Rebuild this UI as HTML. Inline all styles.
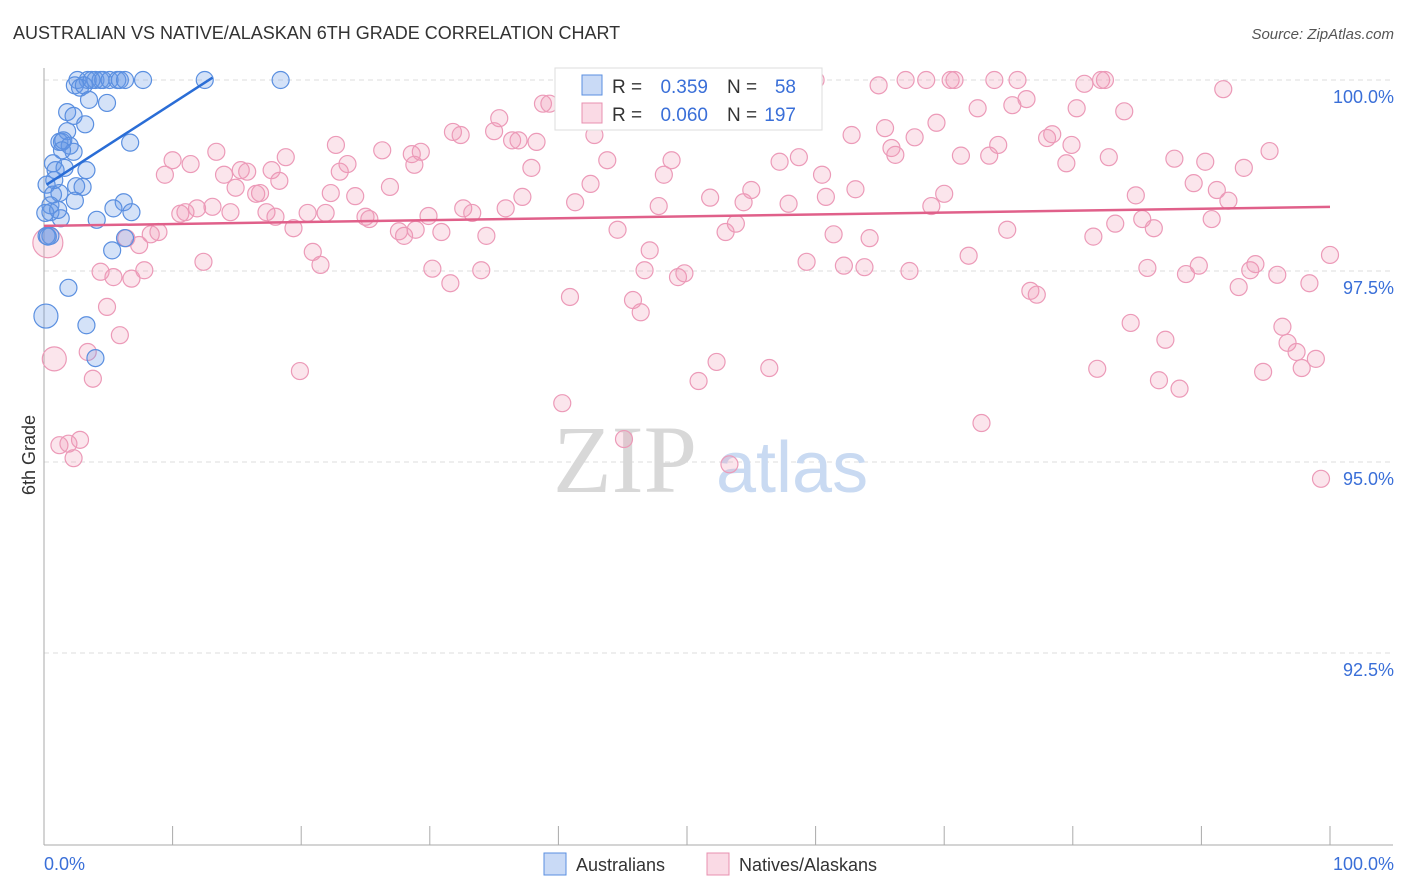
<!DOCTYPE html>
<html><head><meta charset="utf-8"><style>
body{margin:0;background:#fff;font-family:"Liberation Sans",sans-serif}
svg{display:block}
</style></head><body>
<svg id="chart" width="1406" height="892">
<text x="13" y="39" font-size="18" fill="#333">AUSTRALIAN VS NATIVE/ALASKAN 6TH GRADE CORRELATION CHART</text>
<text x="1394" y="39" font-size="15" fill="#555" font-style="italic" text-anchor="end">Source: ZipAtlas.com</text>
<g id="grid"></g>
<g id="wm">
<text x="553" y="492" font-size="96" fill="#d8d8d8" font-family="Liberation Serif,serif">ZIP</text>
<text x="716" y="492" font-size="72" fill="#c9daf2">atlas</text>
</g>
<g id="pts"></g>
<g id="lines"></g>
<text transform="translate(35,455) rotate(-90)" font-size="18" fill="#333" text-anchor="middle">6th Grade</text>
<text x="44" y="870" font-size="18" fill="#3a6fd8">0.0%</text>
<text x="1394" y="870" font-size="18" fill="#3a6fd8" text-anchor="end">100.0%</text>
<g>
<rect x="555" y="68" width="267" height="62" fill="#fff" stroke="#ddd"/>
<rect x="582" y="75" width="20" height="20" fill="rgba(100,150,230,0.35)" stroke="#5a8fe0"/>
<rect x="582" y="103" width="20" height="20" fill="rgba(240,150,180,0.35)" stroke="#e890b0"/>
<text y="93" font-size="19" fill="#333"><tspan x="612">R =</tspan><tspan x="708" text-anchor="end" fill="#3a6fd8">0.359</tspan><tspan x="727">N =</tspan><tspan x="796" text-anchor="end" fill="#3a6fd8">58</tspan></text>
<text y="121" font-size="19" fill="#333"><tspan x="612">R =</tspan><tspan x="708" text-anchor="end" fill="#3a6fd8">0.060</tspan><tspan x="727">N =</tspan><tspan x="796" text-anchor="end" fill="#3a6fd8">197</tspan></text>
</g>
<g>
<rect x="544" y="853" width="22" height="22" fill="rgba(100,150,230,0.35)" stroke="#5a8fe0"/>
<text x="576" y="871" font-size="18" fill="#333">Australians</text>
<rect x="707" y="853" width="22" height="22" fill="rgba(240,150,180,0.35)" stroke="#e890b0"/>
<text x="739" y="871" font-size="18" fill="#333">Natives/Alaskans</text>
</g>
</svg>
<script>
const yTicks=[100,97.5,95,92.5];
const yTickLabels=["100.0%","97.5%","95.0%","92.5%"];
const xTicks=[0,10,20,30,40,50,60,70,80,90,100];
const blueX=[2.6,3.4,4.0,4.4,4.6,5.1,5.7,5.9,6.3,7.7,12.5,18.4,2.4,2.8,3.1,3.5,4.9,1.8,2.3,3.2,1.8,1.2,1.4,2.0,2.3,0.7,0.9,3.3,6.7,0.2,0.7,2.5,3.0,1.2,2.4,6.2,0.5,0.5,1.3,4.1,5.4,6.8,0.5,0.2,6.3,5.3,1.9,3.3,4.0,0.15,1.6,1.5,1.4,0.1,0.8,1.1,0.3,3.7];
const blueY=[100,100,100,100,100,100,100,100,100,100,100,100,99.93,99.9,99.93,99.74,99.7,99.58,99.53,99.42,99.33,99.19,99.19,99.14,99.06,98.91,98.82,98.82,99.18,98.63,98.5,98.61,98.6,98.52,98.42,98.4,98.36,98.27,98.19,98.17,98.32,98.27,97.96,97.96,97.93,97.77,97.28,96.79,96.36,96.91,98.85,99.21,99.08,98.26,98.69,98.3,97.95,100];
const blueBig=[49];
const pinkX=[0.3,0.8,1.2,2.3,2.8,1.9,3.8,3.4,5.9,4.9,4.4,5.4,6.8,7.8,7.4,6.4,8.3,8.9,9.4,10.0,10.6,11.0,11.4,11.9,12.4,13.1,13.4,14.0,14.5,14.9,15.3,15.8,16.5,16.8,17.3,17.7,18.0,18.3,18.8,19.4,19.9,20.5,20.9,21.5,21.9,22.3,22.7,23.0,23.6,24.2,25.0,25.3,26.3,26.9,27.6,28.0,28.6,28.8,28.9,29.3,29.9,30.2,30.9,31.6,31.8,32.4,32.6,33.3,34.0,34.4,35.0,35.4,35.9,36.4,36.9,37.2,37.9,38.3,38.8,39.3,40.3,40.9,41.3,42.5,42.8,43.1,43.8,44.6,45.1,45.8,46.4,46.7,47.1,47.8,48.2,48.8,49.3,49.8,50.9,51.6,51.8,52.3,53.0,53.3,53.8,54.4,55.0,55.7,56.4,57.2,57.9,58.7,59.3,60.0,60.5,60.8,61.4,62.2,62.8,63.1,63.8,64.2,64.9,65.4,65.9,66.2,67.0,67.3,67.7,68.6,69.0,69.4,70.0,70.5,70.8,71.3,71.9,72.6,72.9,73.5,73.9,74.2,74.9,75.3,75.7,76.4,76.7,77.2,78.0,78.4,79.5,79.9,80.3,80.9,81.6,81.9,82.2,82.5,82.8,83.3,84.0,84.5,84.9,85.4,85.8,86.3,86.7,87.2,87.9,88.3,88.8,89.4,89.8,90.3,90.8,91.2,91.7,92.1,92.9,93.3,93.8,94.2,94.8,95.3,95.9,96.3,96.7,97.4,97.8,98.4,98.9,99.3,100.0];
const pinkY=[97.87,96.35,95.22,95.05,95.29,95.24,96.09,96.44,96.66,97.03,97.49,97.42,97.40,97.51,97.84,97.93,97.98,98.01,98.76,98.95,98.25,98.27,98.90,98.32,97.62,98.34,99.06,98.76,98.27,98.59,98.82,98.80,98.51,98.52,98.27,98.82,98.21,98.68,98.99,98.06,96.19,98.26,97.75,97.58,98.26,98.52,99.15,98.80,98.90,98.48,98.21,98.18,99.08,98.60,98.02,97.96,99.03,98.89,98.04,99.06,98.22,97.53,98.01,97.34,99.32,99.28,98.32,98.26,97.51,97.96,99.33,99.50,98.32,99.21,99.21,98.47,98.85,99.19,99.69,99.69,95.77,97.16,98.40,98.64,99.28,99.73,98.95,98.04,95.30,97.12,96.96,97.51,97.77,98.35,98.76,98.95,97.42,97.47,96.06,99.99,98.46,96.31,98.01,94.97,98.12,98.40,98.56,100,96.23,98.93,98.38,98.99,97.62,100,98.76,98.47,97.98,97.57,99.28,98.57,97.55,97.93,99.93,99.37,99.11,99.02,100,97.50,99.25,100,98.35,99.44,98.51,100,100,99.01,97.70,99.63,95.51,99.01,100,99.15,98.04,99.67,100,99.75,97.24,97.19,99.24,99.29,98.91,99.15,99.63,99.95,97.95,96.22,100,100,98.99,98.12,99.59,96.82,98.49,98.18,97.54,98.06,96.07,96.60,98.97,95.96,97.46,98.65,97.57,98.93,98.18,98.56,99.88,98.42,97.29,98.85,97.51,97.59,96.18,99.07,97.45,96.77,96.56,96.44,96.23,97.34,96.35,94.78,97.71];
const pinkBig=[0,1];
const blueTrendX=[0.2,13.1];
const blueTrendY=[98.63,100.03];
const pinkTrendX=[0,100];
const pinkTrendY=[98.09,98.34];

const NS="http://www.w3.org/2000/svg";
const sx=v=>44+v*12.86;
const sy=v=>80+(100-v)/2.5*191;
function mk(tag,attrs,parent){const e=document.createElementNS(NS,tag);for(const k in attrs)e.setAttribute(k,attrs[k]);parent.appendChild(e);return e;}
const grid=document.getElementById('grid');
yTicks.forEach((t,i)=>{
  const l=mk('line',{x1:44,x2:1393,y1:sy(t),y2:sy(t),stroke:'#ddd','stroke-dasharray':'5,4'},grid);
  
  
  const tx=mk('text',{x:1394,y:sy(t)+23,'font-size':18,fill:'#3a6fd8','text-anchor':'end'},grid);
  tx.textContent=yTickLabels[i];
  
  
});
const ax=mk('line',{x1:44,x2:44,y1:68,y2:845,stroke:'#aaa'},grid);


const bx=mk('line',{x1:44,x2:1393,y1:845,y2:845,stroke:'#aaa'},grid);


xTicks.forEach(t=>{
  const l=mk('line',{x1:sx(t),x2:sx(t),y1:826,y2:845,stroke:'#aaa'},grid);
  
  
});
const pts=document.getElementById('pts');
pinkX.forEach((x,i)=>{
  const r=pinkBig.indexOf(i)===0?15:(pinkBig.indexOf(i)>0?12:8.5);
  const c=mk('circle',{cx:sx(x),cy:sy(pinkY[i]),r:r,fill:'rgba(240,150,180,0.25)',stroke:'#ec9ab8','stroke-width':1.2},pts);
  
  
});
blueX.forEach((x,i)=>{
  const r=blueBig.includes(i)?12:8.5;
  const c=mk('circle',{cx:sx(x),cy:sy(blueY[i]),r:r,fill:'rgba(100,150,230,0.28)',stroke:'#5a8fe0','stroke-width':1.2},pts);
  
  
});
const lines=document.getElementById('lines');
const bl=mk('line',{x1:sx(blueTrendX[0]),y1:sy(blueTrendY[0]),x2:sx(blueTrendX[1]),y2:sy(blueTrendY[1]),stroke:'#2a6dd6','stroke-width':2.5},lines);


const pl=mk('line',{x1:sx(pinkTrendX[0]),y1:sy(pinkTrendY[0]),x2:sx(pinkTrendX[1]),y2:sy(pinkTrendY[1]),stroke:'#e0608a','stroke-width':2.5},lines);


</script>
</body></html>
